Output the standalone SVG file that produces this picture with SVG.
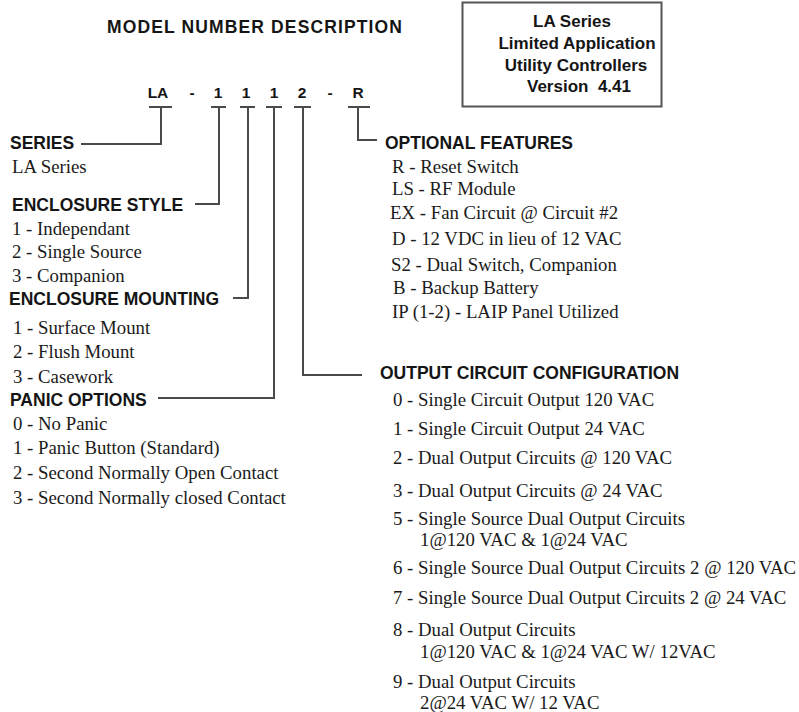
<svg xmlns="http://www.w3.org/2000/svg" width="799" height="712" viewBox="0 0 799 712">
<style>
.h{font-family:"Liberation Sans",Arial,sans-serif;font-weight:bold;font-size:17.5px;fill:#151515}
.t{font-family:"Liberation Serif","Times New Roman",serif;font-size:18.8px;fill:#1a1a1a}
.code{font-family:"Liberation Sans",Arial,sans-serif;font-weight:bold;font-size:15.5px;fill:#151515;text-anchor:middle}
.box{font-family:"Liberation Sans",Arial,sans-serif;font-weight:bold;font-size:17px;fill:#151515;text-anchor:middle}
.ln{fill:none;stroke:#4a4a4a;stroke-width:2}
</style>
<rect width="799" height="712" fill="#ffffff"/>
<g id="title">
<text class="h" x="107" y="33" font-size="19" textLength="295" lengthAdjust="spacing">MODEL NUMBER DESCRIPTION</text>
</g>
<g id="info-box">
<rect x="462.5" y="2.5" width="199" height="104" fill="#ffffff" stroke="#555555" stroke-width="2"/>
<text class="box" x="572" y="27">LA Series</text>
<text class="box" x="577" y="49">Limited Application</text>
<text class="box" x="576" y="71">Utility Controllers</text>
<text class="box" x="579" y="92" xml:space="preserve">Version  4.41</text>
</g>
<g id="model-code">
<text class="code" x="158" y="98">LA</text>
<text class="code" x="192" y="98">-</text>
<text class="code" x="218" y="98">1</text>
<text class="code" x="246" y="98">1</text>
<text class="code" x="274" y="98">1</text>
<text class="code" x="302" y="98">2</text>
<text class="code" x="330" y="98">-</text>
<text class="code" x="358" y="98">R</text>
</g>
<g id="connectors" class="ln">
<path class="ln" d="M149 107H172M161 107V144H81"/>
<path class="ln" d="M211 107H226M219 107V204H195"/>
<path class="ln" d="M240 107H255M248 107V298H233"/>
<path class="ln" d="M266 107H282M274 107V398H158"/>
<path class="ln" d="M294 107H311M303 107V375H362"/>
<path class="ln" d="M348 107H370M358 107V140H377"/>
</g>
<g id="series">
<text class="h" x="10" y="149">SERIES</text>
<text class="t" x="12" y="173">LA Series</text>
</g>
<g id="enclosure-style">
<text class="h" x="12" y="211">ENCLOSURE STYLE</text>
<text class="t" x="12" y="235">1 - Independant</text>
<text class="t" x="12" y="258">2 - Single Source</text>
<text class="t" x="12" y="282">3 - Companion</text>
</g>
<g id="enclosure-mounting">
<text class="h" x="9" y="305">ENCLOSURE MOUNTING</text>
<text class="t" x="13" y="334">1 - Surface Mount</text>
<text class="t" x="13" y="358">2 - Flush Mount</text>
<text class="t" x="13" y="383">3 - Casework</text>
</g>
<g id="panic-options">
<text class="h" x="10" y="406">PANIC OPTIONS</text>
<text class="t" x="13" y="430">0 - No Panic</text>
<text class="t" x="13" y="454">1 - Panic Button (Standard)</text>
<text class="t" x="13" y="479">2 - Second Normally Open Contact</text>
<text class="t" x="13" y="504">3 - Second Normally closed Contact</text>
</g>
<g id="optional-features">
<text class="h" x="385" y="149">OPTIONAL FEATURES</text>
<text class="t" x="392" y="173">R - Reset Switch</text>
<text class="t" x="392" y="195">LS - RF Module</text>
<text class="t" x="390" y="219">EX - Fan Circuit @ Circuit #2</text>
<text class="t" x="392" y="245">D - 12 VDC in lieu of 12 VAC</text>
<text class="t" x="391" y="271">S2 - Dual Switch, Companion</text>
<text class="t" x="393" y="294">B - Backup Battery</text>
<text class="t" x="392" y="318">IP (1-2) - LAIP Panel Utilized</text>
</g>
<g id="output-config">
<text class="h" x="380" y="379">OUTPUT CIRCUIT CONFIGURATION</text>
<text class="t" x="393" y="406">0 - Single Circuit Output 120 VAC</text>
<text class="t" x="393" y="435">1 - Single Circuit Output 24 VAC</text>
<text class="t" x="393" y="464">2 - Dual Output Circuits @ 120 VAC</text>
<text class="t" x="393" y="497">3 - Dual Output Circuits @ 24 VAC</text>
<text class="t" x="393" y="525">5 - Single Source Dual Output Circuits</text>
<text class="t" x="420" y="546">1@120 VAC &amp; 1@24 VAC</text>
<text class="t" x="393" y="574" textLength="403" lengthAdjust="spacingAndGlyphs">6 - Single Source Dual Output Circuits 2 @ 120 VAC</text>
<text class="t" x="393" y="604">7 - Single Source Dual Output Circuits 2 @ 24 VAC</text>
<text class="t" x="393" y="636">8 - Dual Output Circuits</text>
<text class="t" x="420" y="658">1@120 VAC &amp; 1@24 VAC W/ 12VAC</text>
<text class="t" x="393" y="688">9 - Dual Output Circuits</text>
<text class="t" x="420" y="709">2@24 VAC W/ 12 VAC</text>
</g>
</svg>
